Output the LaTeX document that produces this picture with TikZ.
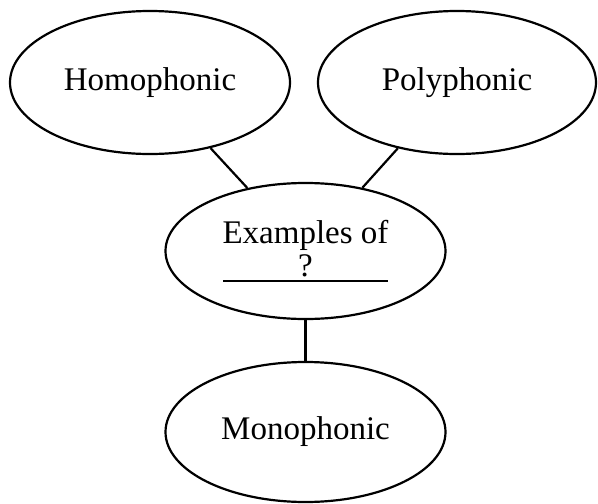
\documentclass[tikz,border=0pt]{standalone}
\usepackage{fontspec}
\setmainfont{Liberation Serif}
\usepackage{tikz}
\usetikzlibrary{positioning, shapes.geometric}

% text set over a ruled blank
\newcommand{\blankfill}[2]{%
  \vtop{\hbox to #1{\hfil #2\hfil}\kern3pt\hrule height 2pt}}

\begin{document}
\begin{tikzpicture}[
  x=1pt, y=-1pt,
  texture/.style={
    ellipse, draw=black, line width=2.2pt,
    minimum width=280pt, minimum height=#1,
    inner sep=0pt, align=center,
    font=\fontsize{33}{33}\selectfont
  },
  link/.style={draw=black, line width=2.2pt},
]
\useasboundingbox (0,0) rectangle (598,504);

% Homophonic
\node[texture=143pt] (homo) at (150,82.5) {Homophonic};

% Polyphonic
\node[texture=143pt, minimum width=278pt] (poly) at (457,82.5) {Polyphonic};

% Examples of ?
\node[texture=136pt] (examples) at (305.5,251) {
  Examples of\\
  \blankfill{165pt}{?}
};

% Monophonic
\node[texture=140pt] (mono) at (305.5,432) {Monophonic};

% links
\draw[link] (homo) -- (examples);
\draw[link] (poly) -- (examples);
\draw[link] (examples) -- (mono);

\end{tikzpicture}
\end{document}
